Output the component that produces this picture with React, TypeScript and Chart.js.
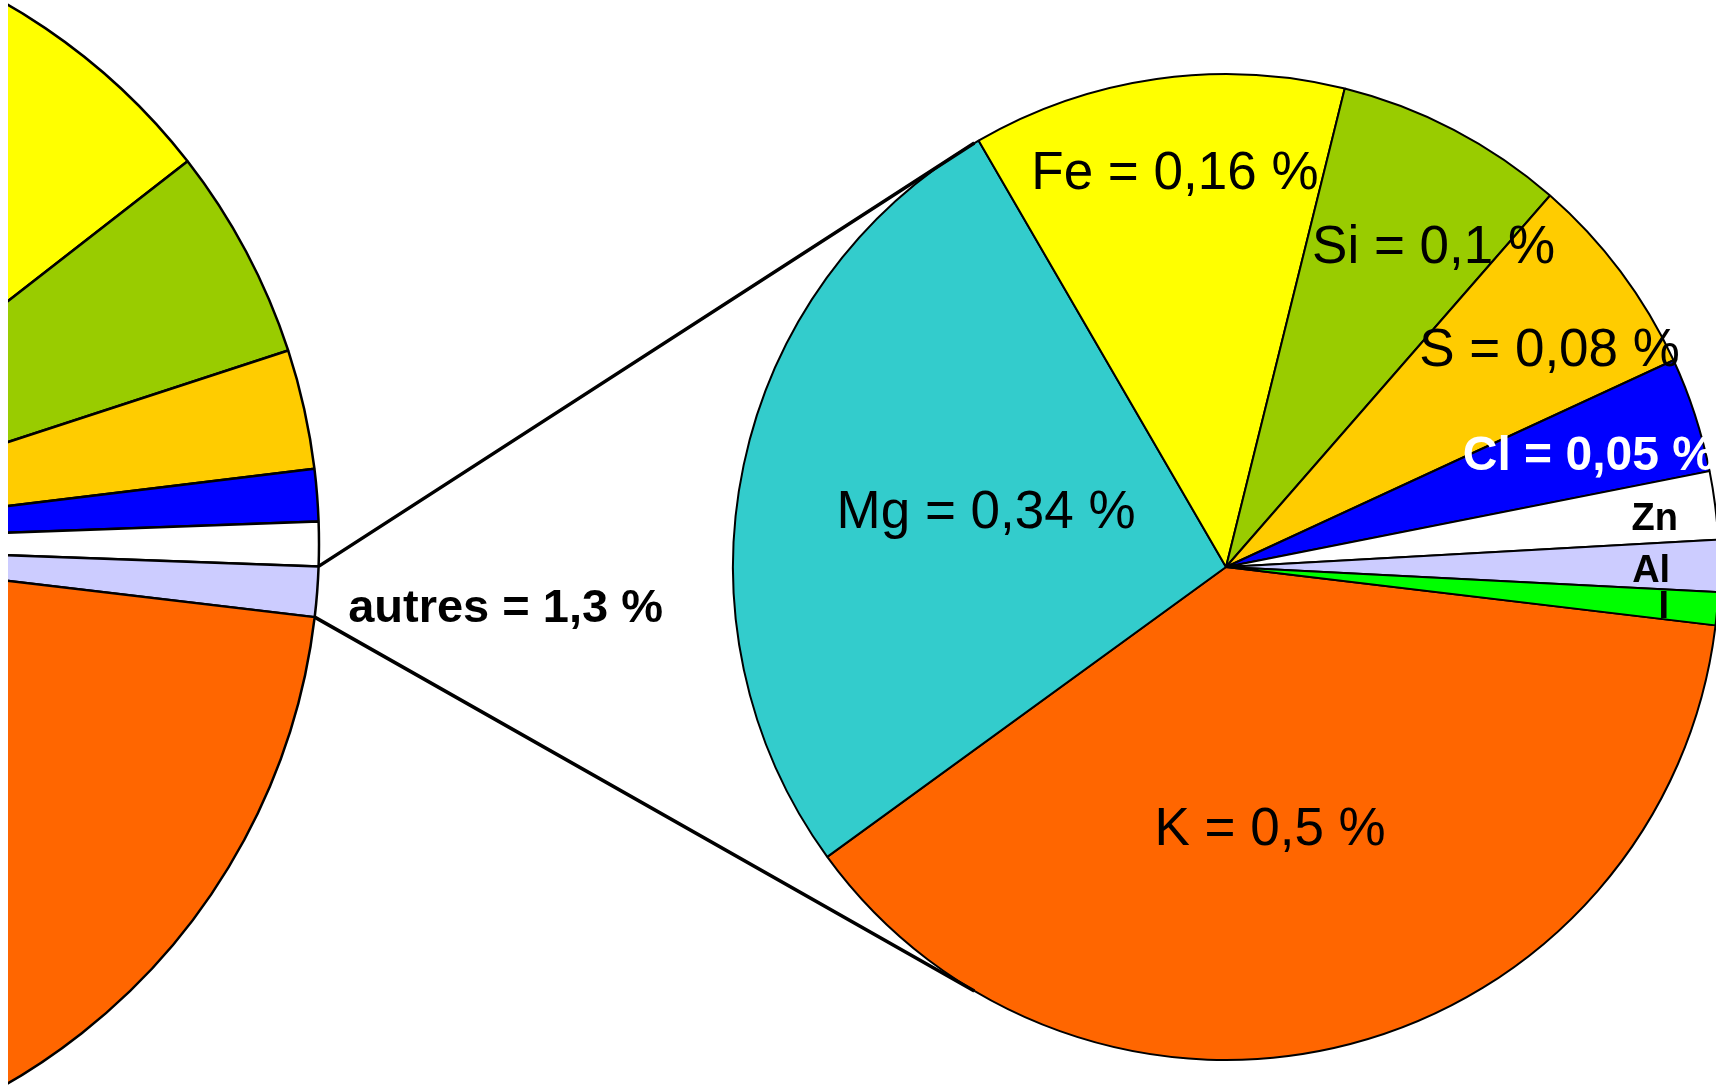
import React, { useEffect, useRef } from "react";
import { Chart, registerables } from "chart.js";

Chart.register(...registerables);

// Main pie (only its right part is visible)
const mainLabels = ["C", "H", "N", "Ca", "P", "autres", "O"];
const mainValues = [20, 5.5, 3.1, 1.35, 1.15, 1.3, 67.6];
const mainColors = ["#FFFF00", "#99CC00", "#FFCC00", "#0000FF", "#FFFFFF", "#CCCCFF", "#FF6600"];
const autresIndex = 5;
const autresText = "autres = 1,3 %";

// Secondary pie: breakdown of "autres"
const subLabels = ["K", "Mg", "Fe", "Si", "S", "Cl", "Zn", "Al", "I"];
const subValues = [0.495, 0.346, 0.159, 0.098, 0.087, 0.049, 0.029, 0.022, 0.014];
const subColors = ["#FF6600", "#33CCCC", "#FFFF00", "#99CC00", "#FFCC00", "#0000FF", "#FFFFFF", "#CCCCFF", "#00FF00"];
const subTexts = ["K = 0,5 %", "Mg = 0,34 %", "Fe = 0,16 %", "Si = 0,1 %", "S = 0,08 %", "Cl = 0,05 %", "Zn", "Al", "I"];

// label placement styles (radius fraction, angle shift in degrees from slice middle)
const subLabelR = [0.571, 0.493, 0.774, 0.747, 0.773, 0.762, 0.873, 0.863, 0.894];
const subLabelShift = [5.6, -2.7, 0.4, 6.8, 4.95, 3.0, 2.2, 2.2, 1.8];
const FONT = "'Liberation Sans', Arial, Helvetica, sans-serif";
const subLabelFont = [
  `normal 53px ${FONT}`, `normal 53px ${FONT}`, `normal 53px ${FONT}`, `normal 53px ${FONT}`,
  `normal 53px ${FONT}`, `bold 48px ${FONT}`, `bold 38px ${FONT}`, `bold 38px ${FONT}`, `bold 38px ${FONT}`,
];
const subLabelColor = ["#000", "#000", "#000", "#000", "#000", "#FFFFFF", "#000", "#000", "#000"];

const W = 1716;
const H = 1088;
const LEFT_CANVAS_X = -954; // page x of left canvas
const LEFT_CANVAS_W = 1300;
const CLIP_X = 8;
const CONNECT_ANGLE = 120.7; // degrees on secondary pie where connectors end

export default function App() {
  const leftRef = useRef<HTMLCanvasElement | null>(null);
  const rightRef = useRef<HTMLCanvasElement | null>(null);

  useEffect(() => {
    const leftChart = new Chart(leftRef.current as HTMLCanvasElement, {
      type: "pie",
      data: {
        labels: mainLabels,
        datasets: [
          {
            data: mainValues,
            backgroundColor: mainColors,
            borderColor: "#000000",
            borderWidth: 2.5,
            radius: 623,
          } as any,
        ],
      },
      options: {
        responsive: false,
        animation: false,
        rotation: -19.9,
        layout: { padding: 0 },
        plugins: { legend: { display: false }, tooltip: { enabled: false } },
      },
    });

    const overlay = {
      id: "overlay",
      afterDatasetsDraw(chart: any) {
        const ctx = chart.ctx as CanvasRenderingContext2D;
        const meta = chart.getDatasetMeta(0);
        ctx.save();
        meta.data.forEach((arc: any, i: number) => {
          const p = arc.getProps(["x", "y", "startAngle", "endAngle", "outerRadius"], true);
          const mid = (p.startAngle + p.endAngle) / 2 + (subLabelShift[i] * Math.PI) / 180;
          const r = p.outerRadius * subLabelR[i];
          ctx.font = subLabelFont[i];
          ctx.fillStyle = subLabelColor[i];
          ctx.textAlign = "center";
          ctx.textBaseline = "alphabetic";
          ctx.fillText(subTexts[i], p.x + r * Math.cos(mid), p.y + r * Math.sin(mid));
        });

        // connectors from main pie's "autres" slice to secondary pie
        const la = leftChart.getDatasetMeta(0).data[autresIndex] as any;
        const lp = la.getProps(["x", "y", "startAngle", "endAngle", "outerRadius"], true);
        const lcx = lp.x + LEFT_CANVAS_X;
        const lcy = lp.y;
        const r0 = lp.outerRadius;
        const a1 = { x: lcx + r0 * Math.cos(lp.startAngle), y: lcy + r0 * Math.sin(lp.startAngle) };
        const a2 = { x: lcx + r0 * Math.cos(lp.endAngle), y: lcy + r0 * Math.sin(lp.endAngle) };
        const ra = meta.data[0].getProps(["x", "y", "outerRadius"], true);
        const t = (CONNECT_ANGLE * Math.PI) / 180;
        const b1 = { x: ra.x + ra.outerRadius * Math.cos(-t), y: ra.y + ra.outerRadius * Math.sin(-t) };
        const b2 = { x: ra.x + ra.outerRadius * Math.cos(t), y: ra.y + ra.outerRadius * Math.sin(t) };
        ctx.strokeStyle = "#000";
        ctx.lineWidth = 3.5;
        ctx.beginPath();
        ctx.moveTo(a1.x, a1.y);
        ctx.lineTo(b1.x, b1.y);
        ctx.moveTo(a2.x, a2.y);
        ctx.lineTo(b2.x, b2.y);
        ctx.stroke();

        // "autres" label
        const am = (lp.startAngle + lp.endAngle) / 2;
        const ox = lcx + r0 * Math.cos(am);
        const oy = lcy + r0 * Math.sin(am);
        ctx.font = `bold 47px ${FONT}`;
        ctx.fillStyle = "#000";
        ctx.textAlign = "left";
        ctx.textBaseline = "alphabetic";
        ctx.fillText(autresText, ox + 31, oy + 30);
        ctx.restore();
      },
    };

    const rightChart = new Chart(rightRef.current as HTMLCanvasElement, {
      type: "pie",
      data: {
        labels: subLabels,
        datasets: [
          {
            data: subValues,
            backgroundColor: subColors,
            borderColor: "#000000",
            borderWidth: 2,
            radius: 493,
          } as any,
        ],
      },
      options: {
        responsive: false,
        animation: false,
        rotation: 96.8,
        layout: { padding: { left: 736, top: 46, right: 0, bottom: 0 } },
        plugins: { legend: { display: false }, tooltip: { enabled: false } },
      },
      plugins: [overlay],
    });

    return () => {
      rightChart.destroy();
      leftChart.destroy();
    };
  }, []);

  return (
    <div
      style={{
        position: "fixed",
        left: 0,
        top: 0,
        width: W,
        height: H,
        overflow: "hidden",
        background: "#fff",
      }}
    >
      <div
        style={{
          position: "absolute",
          left: CLIP_X,
          top: 0,
          width: W - CLIP_X,
          height: H,
          overflow: "hidden",
        }}
      >
        <canvas
          ref={leftRef}
          width={LEFT_CANVAS_W}
          height={H}
          style={{ position: "absolute", left: LEFT_CANVAS_X - CLIP_X, top: 0, width: LEFT_CANVAS_W, height: H }}
        />
      </div>
      <canvas
        ref={rightRef}
        width={W}
        height={H}
        style={{ position: "absolute", left: 0, top: 0, width: W, height: H }}
      />
    </div>
  );
}
